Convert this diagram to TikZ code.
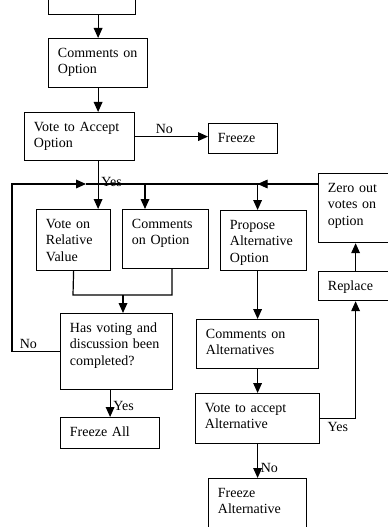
\documentclass[tikz,border=0pt]{standalone}
\usepackage{fontspec}
\setmainfont{Liberation Serif}
\usetikzlibrary{arrows.meta}

\begin{document}
\begin{tikzpicture}[
    x=0.75pt, y=-0.75pt,
    font=\fontsize{10.5}{12.5}\selectfont,
    box/.style={rectangle, draw, line width=0.9pt, anchor=north west, align=left, inner xsep=7pt, inner ysep=6pt, text height=8pt},
    line/.style={line width=0.9pt},
    arrow/.style={line width=0.9pt, -{Triangle[length=7.5pt,width=6.5pt]}},
    lbl/.style={inner sep=2pt}
]
\useasboundingbox (0,0) rectangle (388,527);

% left column
\node[box, text width=51.25pt, text depth=20.5pt] (prev) at (48,-40) {};
\node[box, text width=60.25pt, text depth=16.75pt] (cmt) at (48,38) {Comments on\\Option};
\node[box, text width=68.5pt, text depth=16pt] (acc) at (24,112) {Vote to Accept\\Option};
\node[box, text width=37.75pt, text depth=2.5pt] (frz) at (208,123) {Freeze};
\node[box, text width=41.5pt, text depth=25.75pt] (vrv) at (36,209) {Vote on\\Relative\\Value};
\node[box, text width=50.5pt, text depth=24.25pt] (cmtopt) at (122,209) {Comments\\on Option};
\node[box, text width=70pt, text depth=37pt] (done) at (60,313) {Has voting and\\discussion been\\completed?};
\node[box, text width=60.25pt, text depth=3.25pt] (frzall) at (60,417) {Freeze All};

% right column
\node[box, text width=50.5pt, text depth=25pt] (prop) at (220,210) {Propose\\Alternative\\Option};
\node[box, text width=41.5pt, text depth=31.75pt] (zero) at (318,173) {Zero out\\votes on\\option};
\node[box, text width=41.5pt, text depth=1.75pt] (repl) at (318,271) {Replace};
\node[box, text width=77.5pt, text depth=16.75pt] (calt) at (196,319) {Comments on\\Alternatives};
\node[box, text width=79pt, text depth=17.5pt] (valt) at (195,393) {Vote to accept\\Alternative};
\node[box, text width=59.5pt, text depth=30.25pt] (frzalt) at (208,478) {Freeze\\Alternative};

% bus and junctions
\coordinate (busW) at (12,184);
\coordinate (busA) at (86,184);
\coordinate (dropB) at (145,184);
\coordinate (joinL) at (73,295);
\coordinate (joinR) at (172,295);
\coordinate (join) at (123,295);

\draw[arrow] (prev.south -| cmt.north) -- (cmt.north);
\draw[arrow] (cmt.south) -- (cmt.south |- acc.north);
\draw[arrow] (acc.east) -- node[lbl, above, pos=0.4] {No} (acc.east -| frz.west);
\draw[arrow] (acc.south -| cmt.south) -- node[lbl, right, pos=0.43] {Yes} (vrv.north -| cmt.south);

\draw[arrow] (done.west) -| node[lbl, above, pos=0.33] {No} (busW) -- (busA);
\draw[line] (busA) -- (zero.west |- busW);
\draw[arrow] (zero.west |- busW) -- (valt.north |- busW);
\draw[arrow] (dropB) -- (dropB |- cmtopt.north);
\draw[arrow] (valt.north |- busW) -- (valt.north |- prop.north);

\draw[line] (vrv.south) -- (joinL) -- (joinR) -- (joinR |- cmtopt.south);
\draw[arrow] (join) -- (join |- done.north);
\draw[arrow] (frzall.north |- done.south) -- node[lbl, right, pos=0.6] {Yes} (frzall.north);

\draw[arrow] (valt.north |- prop.south) -- (calt.north);
\draw[arrow] (calt.south) -- (valt.north);
\draw[arrow] (valt.south) -- node[lbl, right, pos=0.7] {No} (frzalt.north);
\draw[arrow] (valt.east) -| node[lbl, below, pos=0.25] {Yes} (repl.south);
\draw[arrow] (repl.north) -- (zero.south);

\end{tikzpicture}
\end{document}
